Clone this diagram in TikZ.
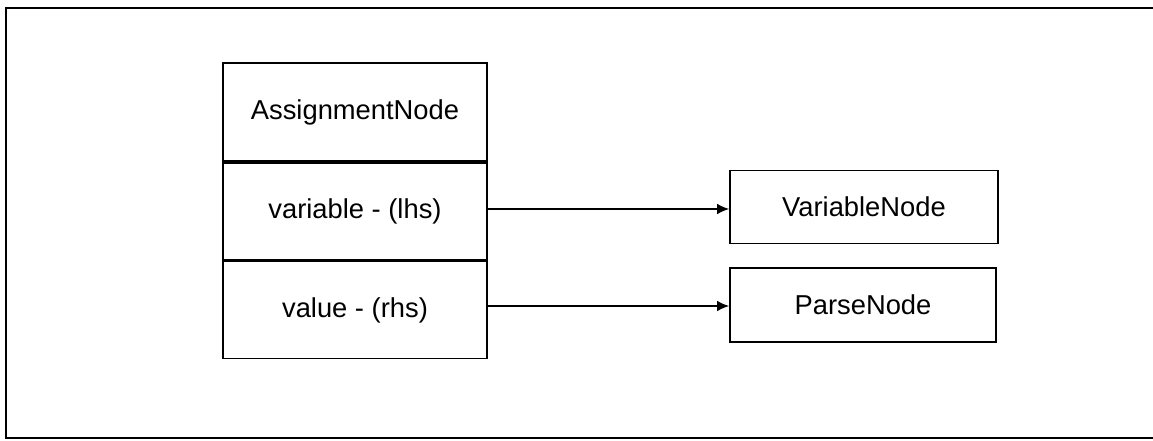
\documentclass[tikz,border=0pt]{standalone}
\usepackage{fontspec}
\setmainfont{Liberation Sans}
\usetikzlibrary{arrows.meta}
\begin{document}
\begin{tikzpicture}[x=0.75pt,y=-0.75pt,
  box/.style={draw=black, line width=1.3pt, inner sep=0pt},
  lbl/.style={font=\fontsize{20.5}{23}\selectfont, inner sep=0pt},
  conn/.style={draw=black, line width=1.1pt, -{Latex[length=9pt,width=8pt]}},
  frame/.style={draw=black, line width=1.3pt}]
\useasboundingbox (0,0) rectangle (1153,440);
% outer frame (open at the right)
\draw[frame] (1153,8) -- (6,8) -- (6,438) -- (1153,438);
% AssignmentNode box with three compartments
\node[box, minimum width=264*0.75pt, minimum height=98*0.75pt] (head) at (355,112) {};
\node[box, minimum width=264*0.75pt, minimum height=97*0.75pt, anchor=north] (lhs) at (head.south) {};
\node[box, minimum width=264*0.75pt, minimum height=97*0.75pt, anchor=north] (rhs) at (lhs.south) {};
\node[lbl] (headt) at (head.center) {AssignmentNode};
\node[lbl] (lhst) at (lhs.center) {variable - (lhs)};
\node[lbl] (rhst) at (rhs.center) {value - (rhs)};
% target nodes
\node[box, minimum width=268*0.75pt, minimum height=73*0.75pt] (var) at (864,207) {};
\node[lbl] (vart) at (var.center) {VariableNode};
\node[box, minimum width=266*0.75pt, minimum height=74*0.75pt] (parse) at (863,305) {};
\node[lbl] (parset) at (parse.center) {ParseNode};
% connectors
\draw[conn] (lhs.east |- 0,209) coordinate (a1) -- (var.west |- a1);
\draw[conn] (rhs.east |- 0,306) coordinate (a2) -- (parse.west |- a2);
\end{tikzpicture}
\end{document}
